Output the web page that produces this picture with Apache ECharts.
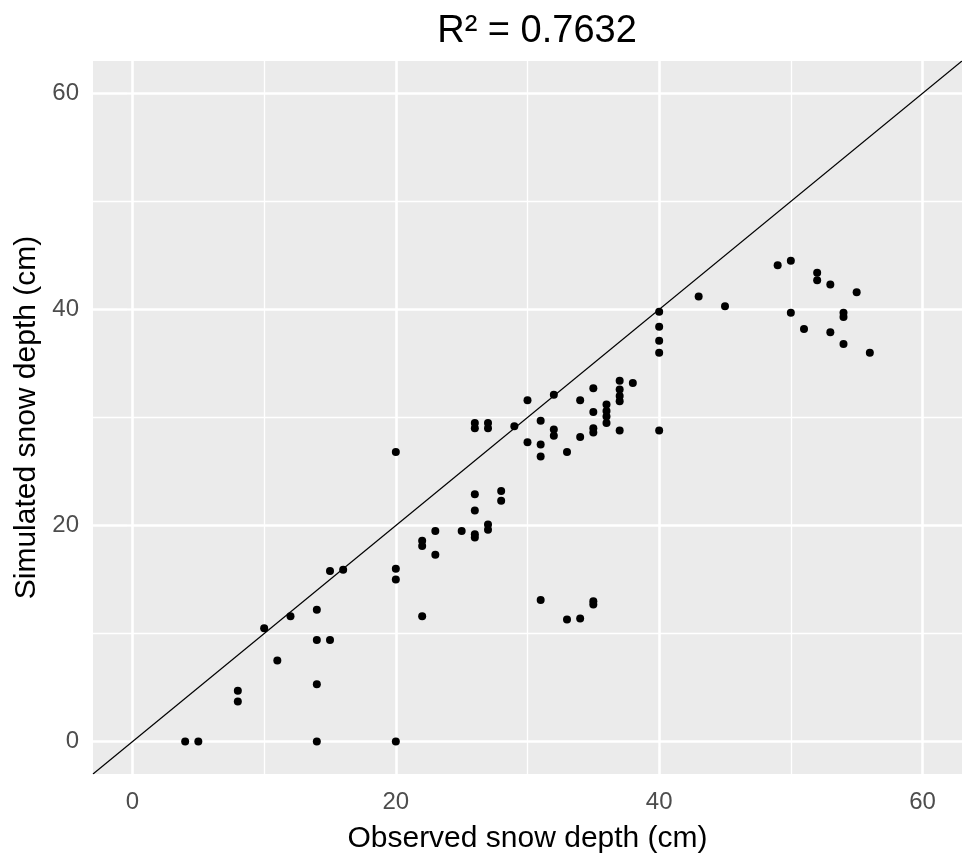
<!DOCTYPE html>
<html>
<head>
<meta charset="utf-8">
<title>Observed vs simulated snow depth</title>
<script src="https://cdn.jsdelivr.net/npm/echarts@6/dist/echarts.min.js"></script>
<style>
  html, body { margin: 0; padding: 0; background: #fff; }
  #chart { width: 962px; height: 859px; }
</style>
</head>
<body>
<div id="chart"></div>
<script>
// observed (x) and simulated (y) snow depth, cm
var observed = [
  4, 5, 8, 8, 10, 11, 12, 14, 14, 14, 14, 15, 15, 16,
  20, 20, 20, 20, 22, 22, 22, 23, 23, 25,
  26, 26, 26, 26, 26, 26, 27, 27, 27, 27, 28, 28, 29,
  30, 30, 31, 31, 31, 31, 32, 32, 32, 33, 33, 34, 34, 34,
  35, 35, 35, 35, 35, 35, 36, 36, 36, 36, 37, 37, 37, 37, 37, 38,
  40, 40, 40, 40, 40, 43, 45, 49, 50, 50, 51, 52, 52, 53, 53, 54, 54, 54, 55, 56
];
var simulated = [
  0, 0, 4.7, 3.7, 10.5, 7.5, 11.6, 12.2, 9.4, 5.3, 0, 15.8, 9.4, 15.9,
  26.8, 16.0, 15.0, 0, 18.6, 18.1, 11.6, 19.5, 17.3, 19.5,
  29.5, 29.0, 22.9, 21.4, 19.2, 18.9, 29.5, 29.0, 20.1, 19.6, 23.2, 22.3, 29.2,
  31.6, 27.7, 29.7, 27.5, 26.4, 13.1, 32.1, 28.9, 28.3, 26.8, 11.3, 31.6, 28.2, 11.4,
  32.7, 30.5, 29.0, 28.6, 13.0, 12.7, 31.2, 30.6, 30.1, 29.5, 33.4, 32.6, 32.0, 31.5, 28.8, 33.2,
  39.8, 38.4, 37.1, 36.0, 28.8, 41.2, 40.3, 44.1, 44.5, 39.7, 38.2, 43.4, 42.7, 42.3, 37.9, 39.7, 39.3, 36.8, 41.6, 36.0
];
var tickValues = [0, 20, 40, 60];
var minorValues = [10, 30, 50];
var axisMin = -3;
var axisMax = 63;
var rSquared = '0.7632';

var points = observed.map(function (x, i) { return [x, simulated[i]]; });

var gridLines = [];
tickValues.forEach(function (v) {
  gridLines.push({ xAxis: v, lineStyle: { width: 2.6 } });
  gridLines.push({ yAxis: v, lineStyle: { width: 2.6 } });
});
minorValues.forEach(function (v) {
  gridLines.push({ xAxis: v, lineStyle: { width: 1.3 } });
  gridLines.push({ yAxis: v, lineStyle: { width: 1.3 } });
});

var chart = echarts.init(document.getElementById('chart'));
var font = 'Liberation Sans, Arial, sans-serif';

chart.setOption({
  animation: false,
  title: {
    text: 'R\u00b2 = ' + rSquared,
    left: 532,
    top: 8,
    textAlign: 'center',
    textStyle: { fontSize: 38, fontWeight: 'normal', color: '#000', fontFamily: font }
  },
  grid: {
    left: 93,
    right: -9,
    top: 61,
    bottom: 83,
    show: true,
    backgroundColor: '#EBEBEB',
    borderWidth: 0
  },
  xAxis: {
    type: 'value',
    min: axisMin,
    max: axisMax,
    name: 'Observed snow depth (cm)',
    nameLocation: 'middle',
    nameGap: 50,
    nameTextStyle: { fontSize: 30, color: '#000', fontFamily: font },
    axisLine: { show: false },
    splitLine: { show: false },
    axisTick: { show: true, length: 6, customValues: tickValues, lineStyle: { color: '#333', width: 1.1 } },
    axisLabel: { customValues: tickValues, margin: 16, fontSize: 24, color: '#4D4D4D', fontFamily: font }
  },
  yAxis: {
    type: 'value',
    min: axisMin,
    max: axisMax,
    name: 'Simulated snow depth (cm)',
    nameLocation: 'middle',
    nameGap: 42,
    nameTextStyle: { fontSize: 30, color: '#000', fontFamily: font },
    axisLine: { show: false },
    splitLine: { show: false },
    axisTick: { show: true, length: 6, customValues: tickValues, lineStyle: { color: '#333', width: 1.1 } },
    axisLabel: { customValues: tickValues, margin: 14, fontSize: 24, color: '#4D4D4D', fontFamily: font }
  },
  series: [
    {
      // white panel gridlines, kept under the points
      type: 'scatter',
      data: [],
      silent: true,
      z: 1,
      markLine: {
        silent: true,
        z: 1,
        symbol: 'none',
        label: { show: false },
        lineStyle: { color: '#FFFFFF', type: 'solid' },
        data: gridLines
      }
    },
    {
      // 1:1 line
      type: 'line',
      data: [[axisMin, axisMin], [axisMax, axisMax]],
      showSymbol: false,
      clip: true,
      lineStyle: { color: '#000', width: 1.2 },
      z: 3
    },
    {
      type: 'scatter',
      data: points,
      symbol: 'circle',
      symbolSize: 8,
      itemStyle: { color: '#000', opacity: 1 },
      z: 4
    }
  ]
});
</script>
</body>
</html>
